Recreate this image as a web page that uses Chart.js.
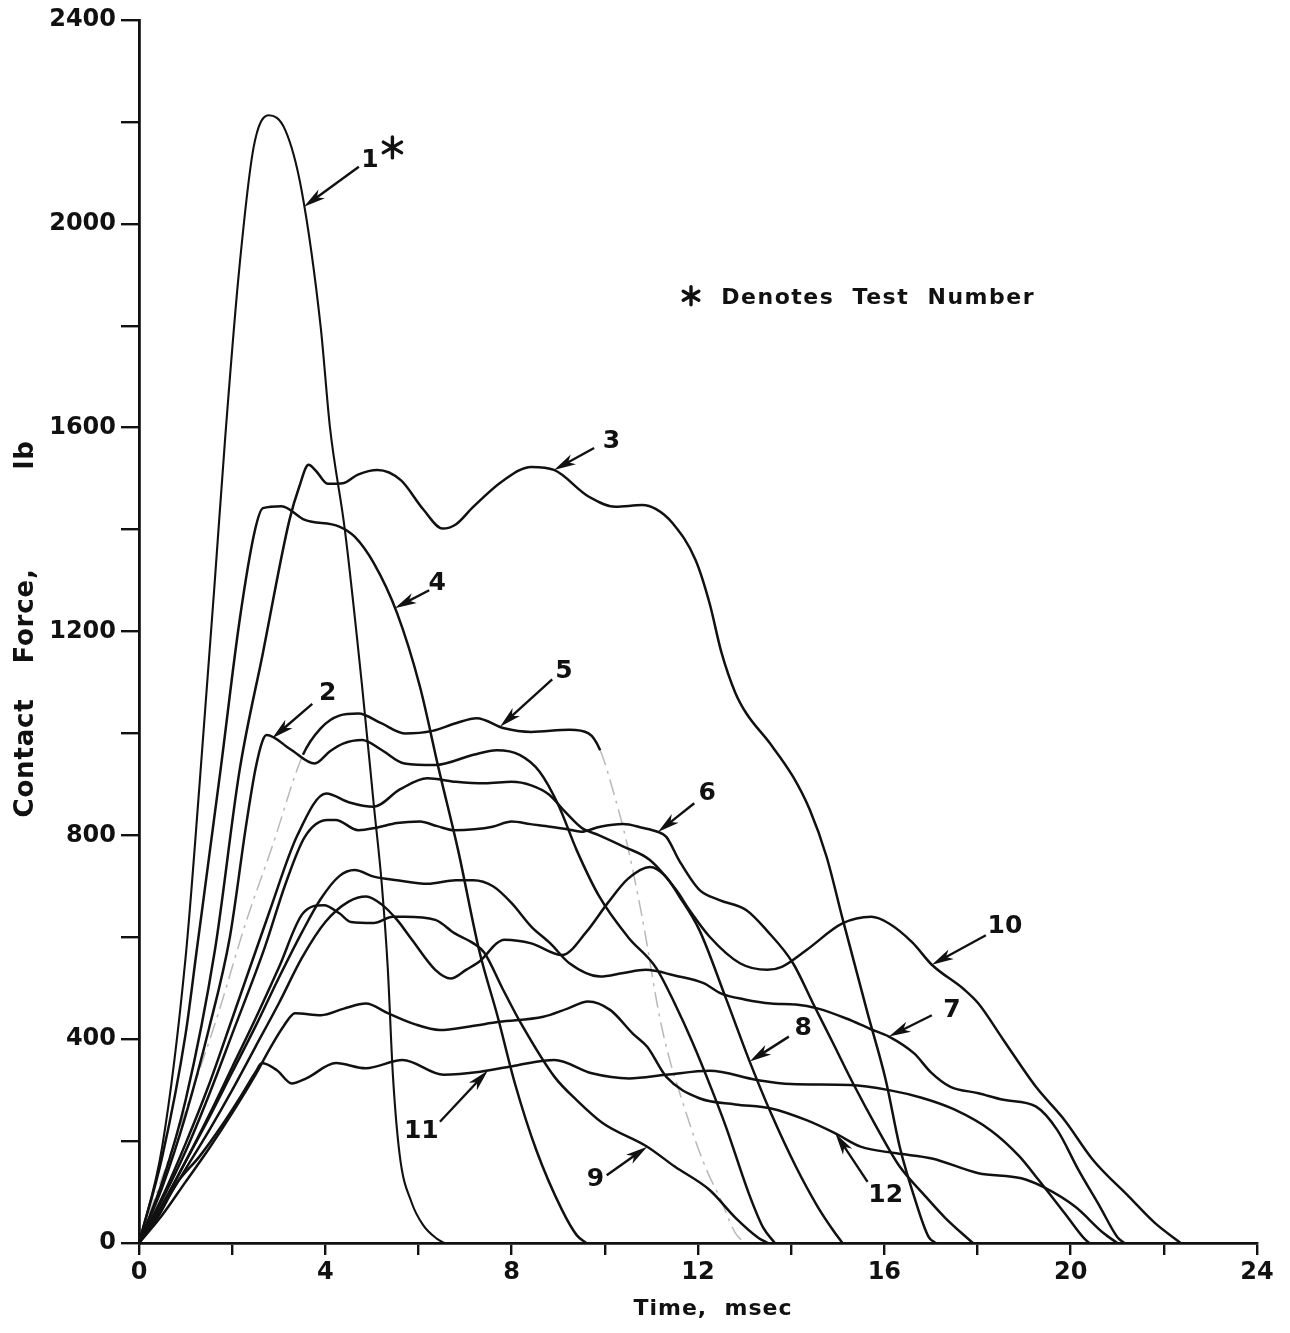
<!DOCTYPE html>
<html lang="en">
<head>
<meta charset="UTF-8">
<title>Contact Force History</title>
<script src="https://cdn.jsdelivr.net/npm/chart.js"></script>
<style>
  html, body { margin: 0; padding: 0; background: #fff; }
  #wrap { width: 1290px; height: 1333px; }
</style>
</head>
<body>
<div id="wrap"><canvas id="chart" width="1290" height="1333"></canvas></div>
<script>
// Contact force traces, one per test: [time (msec), force (lb)]
const test1 = [[0,0],[0.5,190],[1.0,560],[1.3,900],[1.62,1290],[1.85,1580],[2.14,1900],[2.46,2150],[2.78,2213],[3.14,2184],[3.49,2066],[3.9,1798],[4.1,1600],[4.42,1399],[4.79,1092],[5.04,860],[5.21,706],[5.34,540],[5.45,330],[5.6,170],[5.85,80],[6.1,35],[6.4,8],[6.55,0]];
const test2 = [[0,0],[0.5,110],[1.0,250],[1.5,420],[1.95,600],[2.3,820],[2.5,930],[2.65,985],[2.74,997],[3.25,969],[3.77,941],[4.1,965],[4.38,980],[4.79,987],[5.2,968],[5.7,941],[6.36,938],[7.18,958],[7.68,967],[8.17,958],[8.6,925],[9.0,860],[9.4,770],[9.88,680],[10.5,600],[11.1,540],[11.5,470],[11.89,392],[12.3,300],[12.6,228],[13.1,95],[13.4,30],[13.65,0]];
const test3 = [[0,0],[0.5,120],[1.0,280],[1.63,575],[2.16,928],[2.66,1158],[3.23,1419],[3.44,1484],[3.64,1527],[3.8,1515],[4.05,1490],[4.38,1491],[4.7,1508],[5.12,1517],[5.62,1497],[6.1,1440],[6.52,1402],[6.8,1410],[7.18,1445],[7.8,1495],[8.42,1523],[8.91,1517],[9.65,1465],[10.23,1445],[10.8,1448],[11.1,1440],[11.46,1412],[11.95,1340],[12.25,1255],[12.5,1160],[12.8,1080],[13.04,1039],[13.54,981],[14.04,915],[14.4,850],[14.76,758],[15.11,634],[15.64,451],[16.03,320],[16.33,189],[16.64,91],[16.95,12],[17.1,0]];
const test4 = [[0,0],[0.5,170],[1.0,410],[1.24,575],[1.75,928],[2.16,1222],[2.49,1399],[2.66,1442],[3.06,1446],[3.56,1419],[4.3,1406],[4.63,1386],[5.04,1334],[5.54,1236],[6.03,1092],[6.44,928],[6.85,771],[7.3,575],[7.7,444],[8.07,313],[8.53,182],[9.08,65],[9.4,15],[9.6,0]];
const test5 = [[0,0],[1.0,260],[1.7,450],[2.29,628],[2.86,778],[3.52,958],[3.9,1010],[4.3,1035],[4.71,1039],[5.2,1020],[5.7,1000],[6.3,1005],[6.8,1020],[7.25,1030],[7.84,1010],[8.42,1003],[9.24,1007],[9.65,1000],[9.9,967],[10.2,880],[10.46,790],[10.8,640],[11.22,424],[11.8,240],[12.2,140],[12.46,91],[12.8,20],[13.0,0]];
const test6 = [[0,0],[0.5,85],[1.0,180],[1.5,290],[2.0,410],[2.7,580],[3.15,706],[3.56,797],[4.05,830],[4.22,830],[4.71,810],[5.1,815],[5.54,824],[6.03,827],[6.4,818],[6.77,810],[7.2,812],[7.59,817],[8.0,827],[8.4,822],[8.83,817],[9.2,812],[9.49,807],[9.9,817],[10.39,822],[10.8,815],[11.13,807],[11.32,797],[11.6,750],[12.03,693],[12.46,673],[13.04,653],[13.47,614],[14.04,549],[14.47,470],[14.9,392],[15.33,313],[15.83,228],[16.33,150],[16.83,97],[17.3,50],[17.9,0]];
const test7 = [[0,0],[0.5,75],[1.0,160],[1.5,245],[2.0,335],[2.5,425],[3.0,520],[3.5,610],[3.9,675],[4.3,720],[4.63,732],[5.04,719],[5.54,712],[6.2,705],[6.8,712],[7.18,712],[7.6,700],[8.0,667],[8.42,621],[8.83,588],[9.24,549],[9.9,523],[10.4,530],[10.88,536],[11.5,525],[12.12,510],[12.49,490],[13.0,478],[13.57,470],[14.1,468],[14.58,460],[15.2,440],[15.7,420],[16.1,405],[16.64,372],[17.0,335],[17.41,307],[18.02,294],[18.56,281],[19.25,268],[19.71,222],[20.17,143],[20.63,71],[21.0,12],[21.15,0]];
const test8 = [[0,0],[0.5,70],[1.0,145],[1.5,220],[2.0,300],[2.5,385],[3.0,470],[3.5,560],[4.0,630],[4.5,670],[4.88,680],[5.2,665],[5.54,634],[5.86,595],[6.36,536],[6.69,519],[7.02,536],[7.34,555],[7.68,588],[7.84,595],[8.42,588],[9.08,565],[9.6,610],[10.06,667],[10.5,715],[10.97,738],[11.3,720],[11.6,680],[12.03,614],[12.6,480],[13.11,356],[13.57,254],[14.1,150],[14.57,71],[14.9,25],[15.1,0]];
const test9 = [[0,0],[0.5,75],[1.0,160],[1.5,250],[2.0,345],[2.5,440],[3.0,540],[3.52,647],[3.97,663],[4.3,647],[4.55,630],[5.04,628],[5.45,640],[5.7,640],[6.36,634],[6.77,608],[7.18,588],[7.41,570],[7.8,500],[8.2,431],[8.92,326],[9.4,280],[9.96,235],[10.91,189],[11.5,150],[12.25,104],[12.8,50],[13.3,10],[13.5,0]];
const test10 = [[0,0],[0.5,90],[1.0,195],[1.5,310],[2.0,440],[2.8,650],[3.4,800],[4.02,882],[4.5,865],[5.04,856],[5.6,890],[6.19,912],[6.8,905],[7.43,902],[8.0,905],[8.42,898],[8.8,880],[9.16,845],[9.5,815],[9.88,800],[10.4,778],[10.96,752],[11.53,693],[11.82,653],[12.25,601],[12.9,549],[13.49,536],[13.8,542],[14.33,575],[15.1,627],[15.72,640],[16.1,627],[16.6,590],[17.02,546],[17.72,497],[18.02,470],[18.56,398],[19.25,307],[19.87,241],[20.48,163],[21.25,91],[21.8,40],[22.36,0]];
const test11 = [[0,0],[0.4,50],[0.81,117],[1.3,170],[1.76,228],[2.2,290],[2.5,335],[2.64,353],[2.96,339],[3.28,313],[3.59,323],[4.23,353],[4.87,343],[5.66,359],[6.54,330],[7.33,336],[8.13,349],[8.92,359],[9.72,333],[10.52,323],[11.31,330],[12.25,338],[13.26,320],[14.0,312],[15.26,310],[16.1,300],[16.8,285],[17.5,262],[18.3,220],[18.9,170],[19.3,125],[19.9,55],[20.3,8],[20.4,0]];
const test12 = [[0,0],[0.5,55],[1.0,120],[1.5,185],[2.0,255],[2.5,330],[2.8,380],[3.1,425],[3.35,451],[3.91,447],[4.4,460],[4.87,470],[5.34,451],[5.9,430],[6.46,418],[7.1,425],[7.73,434],[8.68,444],[9.2,460],[9.64,474],[10.12,457],[10.6,411],[10.91,385],[11.32,326],[12.03,284],[12.8,272],[13.57,264],[14.33,241],[14.95,215],[15.49,189],[16.26,176],[17.02,166],[18.02,137],[18.94,127],[19.41,110],[20.1,71],[20.71,19],[21.0,0]];

const tests = [test1, test2, test3, test4, test5, test6, test7, test8, test9, test10, test11, test12];

const xTickLabels = [0, 4, 8, 12, 16, 20, 24];
const yTickLabels = [0, 400, 800, 1200, 1600, 2000, 2400];

// test number tags: label centre, arrow tail (data units), arrow tip time on the trace
const tags = [
  { text: '1',  pos: [4.96, 2125], tail: [4.72, 2112], test: 0,  tipAt: 3.54, star: [5.44, 2150] },
  { text: '2',  pos: [4.05, 1078], tail: [3.72, 1058], test: 1,  tipAt: 2.86 },
  { text: '3',  pos: [10.14, 1572], tail: [9.77, 1560], test: 2, tipAt: 8.91 },
  { text: '4',  pos: [6.4, 1295],  tail: [6.23, 1281], test: 3,  tipAt: 5.49 },
  { text: '5',  pos: [9.12, 1121], tail: [8.87, 1106], test: 4,  tipAt: 7.75 },
  { text: '6',  pos: [12.2, 883],  tail: [11.92, 863], test: 5,  tipAt: 11.14 },
  { text: '7',  pos: [17.45, 457], tail: [17.02, 447], test: 6,  tipAt: 16.1 },
  { text: '8',  pos: [14.26, 421], tail: [13.95, 405], test: 7,  tipAt: 13.11 },
  { text: '9',  pos: [9.8, 124],   tail: [10.04, 133], test: 8,  tipAt: 10.91 },
  { text: '10', pos: [18.59, 621], tail: [18.18, 604], test: 9,  tipAt: 17.02 },
  { text: '11', pos: [6.06, 218],  tail: [6.46, 238],  test: 10, tipAt: 7.49 },
  { text: '12', pos: [16.03, 94],  tail: [15.64, 120], test: 11, tipAt: 14.95 }
];

const ink = '#111';
const face = '"DejaVu Sans", sans-serif';

function forceAt(points, t) {
  for (let i = 1; i < points.length; i++) {
    const [t0, f0] = points[i - 1], [t1, f1] = points[i];
    if (t <= t1) return f0 + (f1 - f0) * (t - t0) / (t1 - t0);
  }
  return points[points.length - 1][1];
}

function drawStar(ctx, cx, cy, r) {
  ctx.save();
  ctx.lineWidth = 3.4;
  ctx.lineCap = 'round';
  for (let k = 0; k < 3; k++) {
    const a = Math.PI / 2 + k * Math.PI / 3;
    ctx.beginPath();
    ctx.moveTo(cx - r * Math.cos(a), cy - r * Math.sin(a));
    ctx.lineTo(cx + r * Math.cos(a), cy + r * Math.sin(a));
    ctx.stroke();
  }
  ctx.restore();
}

const annotate = {
  id: 'annotate',
  afterDatasetsDraw(chart) {
    const { ctx, chartArea, scales: { x, y } } = chart;
    ctx.save();
    ctx.fillStyle = ink;
    ctx.strokeStyle = ink;

    // arrows and test numbers
    tags.forEach(tag => {
      const px = x.getPixelForValue(tag.tipAt);
      const py = y.getPixelForValue(forceAt(tests[tag.test], tag.tipAt));
      const tx = x.getPixelForValue(tag.tail[0]);
      const ty = y.getPixelForValue(tag.tail[1]);
      const ang = Math.atan2(py - ty, px - tx);
      ctx.lineWidth = 2.4;
      ctx.beginPath();
      ctx.moveTo(tx, ty);
      ctx.lineTo(px - 12 * Math.cos(ang), py - 12 * Math.sin(ang));
      ctx.stroke();
      ctx.save();
      ctx.translate(px, py);
      ctx.rotate(ang);
      ctx.beginPath();
      ctx.moveTo(0, 0);
      ctx.lineTo(-22, -5.5);
      ctx.lineTo(-16, 0);
      ctx.lineTo(-22, 5.5);
      ctx.closePath();
      ctx.fill();
      ctx.restore();

      ctx.font = 'bold 25px ' + face;
      ctx.textAlign = 'center';
      ctx.textBaseline = 'middle';
      ctx.fillText(tag.text, x.getPixelForValue(tag.pos[0]), y.getPixelForValue(tag.pos[1]));
      if (tag.star) drawStar(ctx, x.getPixelForValue(tag.star[0]), y.getPixelForValue(tag.star[1]), 10.5);
    });

    // note
    drawStar(ctx, x.getPixelForValue(11.85), y.getPixelForValue(1859), 9);
    ctx.font = 'bold 22px ' + face;
    ctx.textAlign = 'left';
    ctx.textBaseline = 'middle';
    ctx.letterSpacing = '1.5px';
    ctx.fillText('Denotes  Test  Number', x.getPixelForValue(12.5), y.getPixelForValue(1854));

    // axis titles
    ctx.textAlign = 'center';
    ctx.letterSpacing = '1px';
    ctx.fillText('Time,  msec', 713, chartArea.bottom + 66);

    ctx.font = 'bold 26px ' + face;
    ctx.letterSpacing = '0.8px';
    [['Contact', 758], ['Force,', 616], ['lb', 455]].forEach(([word, cy]) => {
      ctx.save();
      ctx.translate(26, cy);
      ctx.rotate(-Math.PI / 2);
      ctx.fillText(word, 0, 0);
      ctx.restore();
    });

    ctx.restore();
  }
};

// test 5 is only faintly traced at the start and after it tails off
const faint = c => c.p0.parsed.x < 3.5 || c.p0.parsed.x >= 9.9;

const datasets = tests.map((pts, i) => ({
  label: 'Test ' + (i + 1),
  data: pts.map(([t, f]) => ({ x: t, y: f })),
  borderColor: ink,
  borderWidth: i === 0 ? 2.1 : 2.5,
  pointRadius: 0,
  fill: false,
  cubicInterpolationMode: 'monotone',
  clip: false,
  segment: i === 4 ? {
    borderDash: c => faint(c) ? [16, 6, 3, 6] : undefined,
    borderColor: c => faint(c) ? 'rgba(0,0,0,0.28)' : undefined,
    borderWidth: c => faint(c) ? 1.5 : undefined
  } : undefined
}));

const tickFont = { family: face, size: 24, weight: 'bold' };

new Chart(document.getElementById('chart'), {
  type: 'line',
  data: { datasets },
  options: {
    responsive: false,
    animation: false,
    layout: { padding: { top: 20, right: 33, left: 0, bottom: 0 } },
    plugins: { legend: { display: false }, tooltip: { enabled: false } },
    scales: {
      x: {
        type: 'linear',
        min: 0,
        max: 24,
        ticks: {
          stepSize: 2,
          autoSkip: false,
          maxRotation: 0,
          color: ink,
          font: tickFont,
          padding: 3,
          callback: v => xTickLabels.includes(v) ? String(v) : ''
        },
        grid: { drawOnChartArea: false, drawTicks: true, tickLength: 12, color: ink, lineWidth: 2.4 },
        border: { display: true, color: ink, width: 2.8 },
        afterFit: s => { s.height = 90; }
      },
      y: {
        type: 'linear',
        min: 0,
        max: 2400,
        ticks: {
          stepSize: 200,
          autoSkip: false,
          color: ink,
          font: tickFont,
          padding: 5,
          callback: v => yTickLabels.includes(v) ? String(v) : ''
        },
        grid: { drawOnChartArea: false, drawTicks: true, tickLength: 18, color: ink, lineWidth: 2.4 },
        border: { display: true, color: ink, width: 2.8 },
        afterFit: s => { s.width = 139; }
      }
    }
  },
  plugins: [annotate]
});
</script>
</body>
</html>
